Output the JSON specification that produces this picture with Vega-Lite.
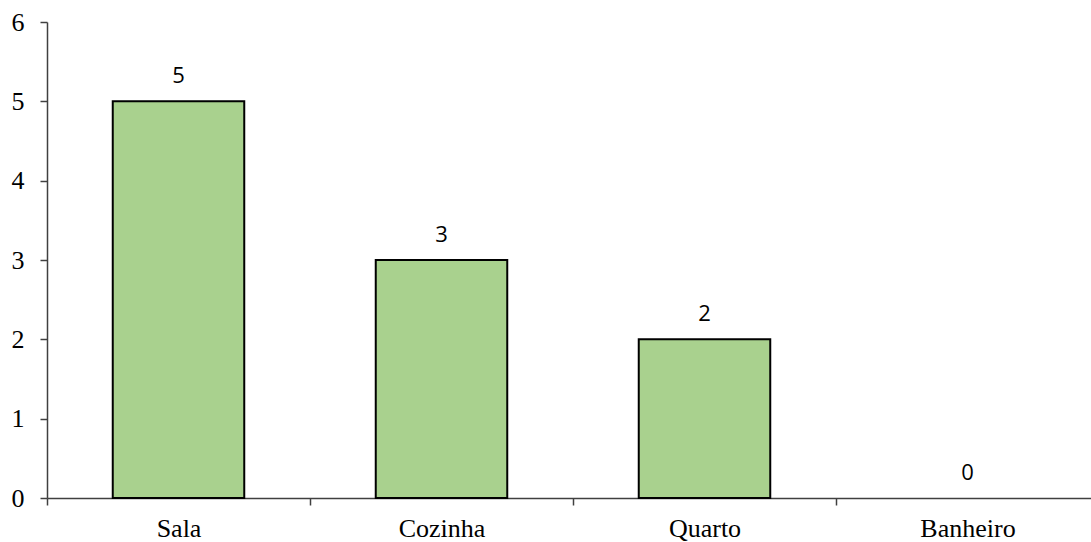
{
  "$schema": "https://vega.github.io/schema/vega-lite/v6.json",
  "autosize": "none",
  "padding": {"left": 47, "top": 22, "right": 0, "bottom": 44},
  "width": 1052,
  "height": 476,
  "background": "white",
  "data": {"values": [
    {"room": "Sala", "count": 5},
    {"room": "Cozinha", "count": 3},
    {"room": "Quarto", "count": 2},
    {"room": "Banheiro", "count": 0}
  ]},
  "config": {"view": {"stroke": null}},
  "encoding": {
    "x": {"field": "room", "type": "nominal", "sort": null,
      "scale": {"paddingInner": 0, "paddingOuter": 0},
      "axis": {"title": null, "labelAngle": 0, "labelFont": "Liberation Serif", "labelFontSize": 26, "labelColor": "black",
        "tickBand": "extent", "tickSize": 7, "tickColor": "#404040", "domainColor": "#404040", "domainWidth": 1.5, "tickWidth": 1.5, "labelPadding": 10}},
    "y": {"field": "count", "type": "quantitative",
      "scale": {"domain": [0, 6]},
      "axis": {"title": null, "values": [0, 1, 2, 3, 4, 5, 6], "grid": false, "labelFont": "Liberation Serif", "labelFontSize": 26, "labelColor": "black",
        "tickSize": 7, "tickColor": "#404040", "domainColor": "#404040", "domainWidth": 1.5, "tickWidth": 1.5, "labelPadding": 16}}
  },
  "layer": [
    {"transform": [{"filter": "datum.count > 0"}],
     "mark": {"type": "bar", "fill": "#A9D18E", "stroke": "black", "strokeWidth": 2, "width": {"band": 0.5}}},
    {"mark": {"type": "text", "baseline": "alphabetic", "dy": -18, "font": "Open Sans", "fontSize": 22, "color": "black"},
      "encoding": {"text": {"field": "count", "type": "quantitative"}}}
  ]
}
